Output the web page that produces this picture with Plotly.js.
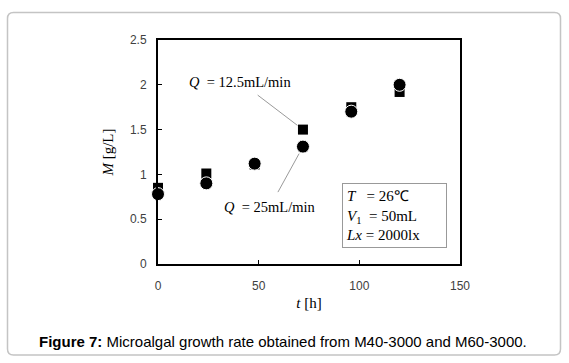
<!DOCTYPE html>
<html>
<head>
<meta charset="utf-8">
<script src="https://cdn.plot.ly/plotly-3.0.1.min.js"></script>
<style>html,body{margin:0;padding:0;background:#fff;}#chart{width:569px;height:363px;}</style>
</head>
<body>
<div id="chart"></div>
<script>
// ---- data ----
const timeH = [0, 24, 48, 72, 96, 120];
const massQ125 = [0.85, 1.01, 1.11, 1.50, 1.75, 1.92];   // Q = 12.5 mL/min (squares)
const massQ25  = [0.78, 0.90, 1.12, 1.31, 1.70, 2.00];   // Q = 25 mL/min (circles)
const xTicks = [0, 50, 100, 150];
const xTickLabels = ['0', '50', '100', '150'];
const yTicks = [0, 0.5, 1, 1.5, 2, 2.5];
const yTickLabels = ['0', '0.5', '1', '1.5', '2', '2.5'];
const labelQ125 = '<i>Q</i>  = 12.5mL/min';
const labelQ25 = '<i>Q</i>  = 25mL/min';
const conditions = '<i>T</i>   = 26℃<br><i>V</i><sub>1</sub>  = 50mL<br><i>Lx</i> = 2000lx';
const caption = '<b>Figure 7:</b> Microalgal growth rate obtained from M40-3000 and M60-3000.';

// ---- layout helpers (pixel -> paper) ----
const W = 569, H = 363, L = 158, R = 109, T = 40, B = 99;
const PW = W - L - R, PH = H - T - B;
const px = x => (x - L) / PW;
const py = y => (H - B - y) / PH;

function roundRect(x0, y0, x1, y1, r) {
  const p = (x, y) => px(x) + ',' + py(y);
  return 'M' + p(x0 + r, y0) + ' L' + p(x1 - r, y0) + ' Q' + p(x1, y0) + ' ' + p(x1, y0 + r) +
    ' L' + p(x1, y1 - r) + ' Q' + p(x1, y1) + ' ' + p(x1 - r, y1) +
    ' L' + p(x0 + r, y1) + ' Q' + p(x0, y1) + ' ' + p(x0, y1 - r) +
    ' L' + p(x0, y0 + r) + ' Q' + p(x0, y0) + ' ' + p(x0 + r, y0) + ' Z';
}

const serif = 'Liberation Serif, Times New Roman, serif';
const sans = 'Liberation Sans, Arial, sans-serif';

const traces = [
  {
    x: timeH, y: massQ125, type: 'scatter', mode: 'markers', name: 'Q = 12.5mL/min',
    marker: {symbol: 'square', size: 10, color: '#000'}, cliponaxis: false
  },
  {
    x: timeH, y: massQ25, type: 'scatter', mode: 'markers', name: 'Q = 25mL/min',
    marker: {symbol: 'circle', size: 13, color: '#000', line: {color: '#fff', width: 1}}, cliponaxis: false
  }
];

const layout = {
  width: W, height: H,
  margin: {l: L, r: R, t: T, b: B},
  paper_bgcolor: '#fff', plot_bgcolor: '#fff',
  showlegend: false,
  xaxis: {
    range: [0, 150], tickvals: xTicks, ticktext: xTickLabels,
    ticks: 'inside', ticklen: 4, tickcolor: '#000', tickwidth: 1,
    ticklabelstandoff: 10,
    showline: true, linecolor: '#000', linewidth: 2, mirror: true,
    showgrid: false, zeroline: false,
    tickfont: {family: sans, size: 12, color: '#404040'},
    title: {text: '<i>t</i> [h]', font: {family: serif, size: 15, color: '#000'}, standoff: 5}
  },
  yaxis: {
    range: [0, 2.5], tickvals: yTicks, ticktext: yTickLabels,
    ticks: 'inside', ticklen: 4, tickcolor: '#000', tickwidth: 1,
    ticklabelstandoff: 7,
    showline: true, linecolor: '#000', linewidth: 2, mirror: true,
    showgrid: false, zeroline: false,
    tickfont: {family: sans, size: 12, color: '#404040'},
    title: {text: '<i>M</i> [g/L]', font: {family: serif, size: 15, color: '#000'}, standoff: 13}
  },
  shapes: [
    {type: 'path', xref: 'paper', yref: 'paper', path: roundRect(7.5, 12.5, 560.5, 355, 6),
     line: {color: '#c4c4c4', width: 1.5}, fillcolor: 'rgba(0,0,0,0)', layer: 'below'}
  ],
  annotations: [
    // labels with leader lines to the 72 h points
    {x: timeH[3], y: massQ125[3], xref: 'x', yref: 'y', text: labelQ125,
     showarrow: true, arrowhead: 0, ax: -63, ay: -48, standoff: 7, borderpad: 5,
     arrowcolor: '#9a9a9a', arrowwidth: 1,
     font: {family: serif, size: 14.5, color: '#000'}},
    {x: timeH[3], y: massQ25[3], xref: 'x', yref: 'y', text: labelQ25,
     showarrow: true, arrowhead: 0, ax: -33, ay: 60, standoff: 8, borderpad: 6,
     arrowcolor: '#9a9a9a', arrowwidth: 1,
     font: {family: serif, size: 14.5, color: '#000'}},
    // conditions box
    {xref: 'paper', yref: 'paper', x: px(342), y: py(183), xanchor: 'left', yanchor: 'top',
     text: conditions, showarrow: false, align: 'left', valign: 'middle', bgcolor: '#fff',
     width: 97, height: 57,
     bordercolor: '#999', borderwidth: 1, borderpad: 3,
     font: {family: serif, size: 15, color: '#000'}},
    // caption
    {xref: 'paper', yref: 'paper', x: px(37), y: py(341), xanchor: 'left', yanchor: 'middle',
     text: caption, showarrow: false, font: {family: sans, size: 15, color: '#000'}}
  ]
};

Plotly.newPlot('chart', traces, layout, {displayModeBar: false, staticPlot: true});
</script>
</body>
</html>
